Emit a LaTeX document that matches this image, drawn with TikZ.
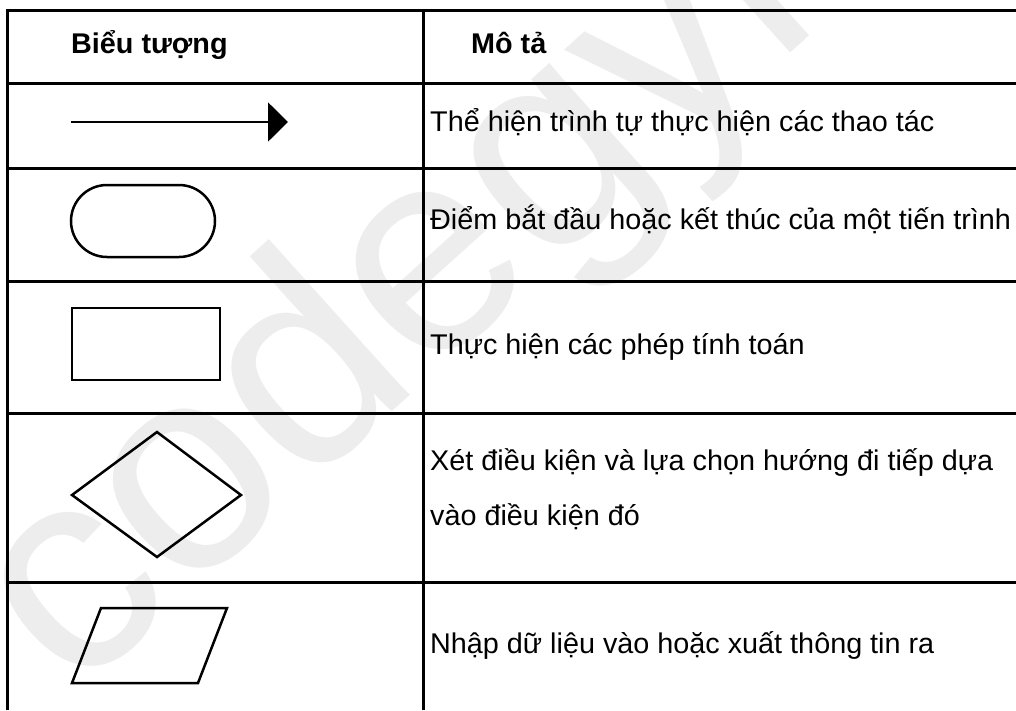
\documentclass[tikz,border=0pt]{standalone}
\usepackage{fontspec}
\setmainfont[FakeStretch=1.01]{Liberation Sans}
\usetikzlibrary{arrows.meta}

\tikzset{
  gridline/.style = {line width=3pt},
  symline/.style = {line width=2.5pt},
  headtext/.style = {anchor=base west, inner sep=0pt, font=\fontsize{28.5}{34}\selectfont\bfseries},
  desctext/.style = {anchor=base west, inner sep=0pt, font=\fontsize{28.5}{34}\selectfont},
}

\begin{document}
\begin{tikzpicture}[x=1pt, y=-1pt]
        \useasboundingbox (0,0) rectangle (1016,710);
        \fill[white] (0,0) rectangle (1016,710);
        % watermark
        \node[text=black!7, rotate=42, font=\fontsize{290}{290}\selectfont] (mark) at (465,245) {codegym};

        % table grid
        \draw[gridline] (7,710) -- (7,10) -- (1016,10);
        \draw[gridline] (423,10) -- (423,710);
        \foreach \y in {83,168,281,413,582} {
          \draw[gridline] (7,\y) -- (1016,\y);
        };

        % header
        \node[headtext] (hsym) at (71,53) {Biểu tượng};
        \node[headtext] (hdesc) at (471,53) {Mô tả};

        % symbols
        \coordinate (arrS) at (71,122);
        \coordinate (arrE) at (288,122);
        \draw[line width=2pt, -{Triangle[length=20pt, width=39pt]}] (arrS) -- (arrE);
        \draw[symline, rounded corners=36pt] (71,185) rectangle (215,257);
        \draw[symline] (72,308) rectangle (220,380);
        \draw[symline] (157,432) -- (241,495) -- (157,557) -- (72,495) -- cycle;
        \draw[symline] (101,608) -- (227,608) -- (198,683) -- (72,683) -- cycle;

        % descriptions
        \node[desctext] (d1) at (430,131) {Thể hiện trình tự thực hiện các thao tác};
        \node[desctext] (d2) at (430,229) {Điểm bắt đầu hoặc kết thúc của một tiến trình};
        \node[desctext] (d3) at (430,354) {Thực hiện các phép tính toán};
        \node[desctext] (d4) at (430,470) {Xét điều kiện và lựa chọn hướng đi tiếp dựa};
        \node[desctext] (d4b) at (430,525) {vào điều kiện đó};
        \node[desctext] (d5) at (430,653) {Nhập dữ liệu vào hoặc xuất thông tin ra};
      \end{tikzpicture}
\end{document}
